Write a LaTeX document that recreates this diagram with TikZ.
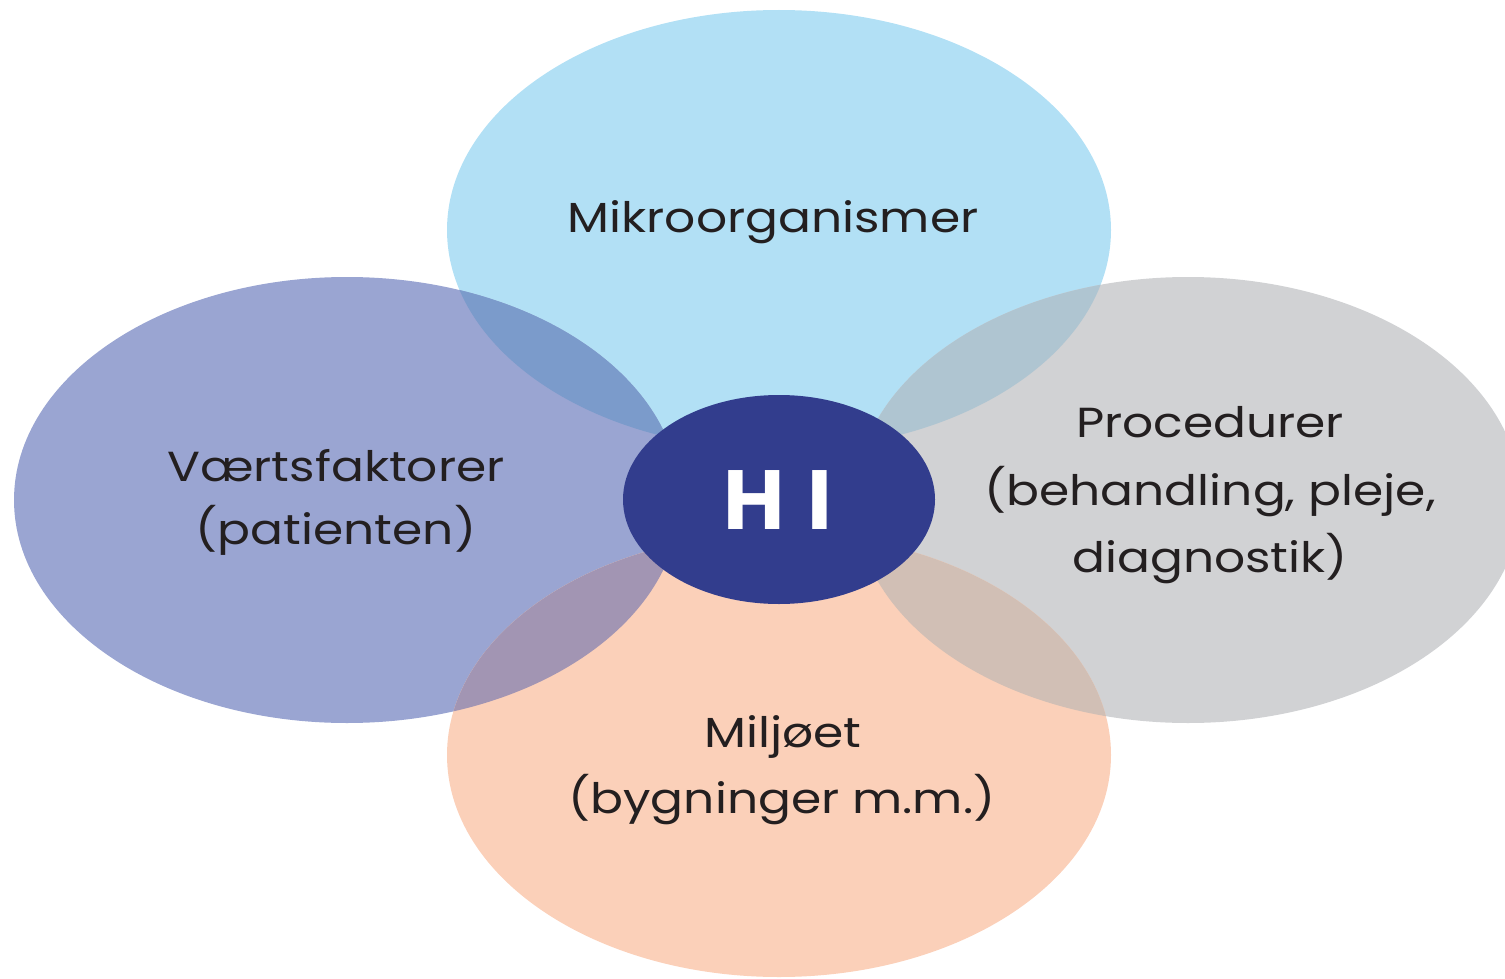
\documentclass[tikz,border=0pt]{standalone}
\usepackage{fontspec}
\usepackage{graphicx}
\setmainfont{Poppins}
\definecolor{ctop}{HTML}{B2E0F5}
\definecolor{cleft}{HTML}{9AA5D2}
\definecolor{cright}{HTML}{D1D2D4}
\definecolor{cbot}{HTML}{FBD0B9}
\definecolor{cdark}{HTML}{323D8D}
\definecolor{clt}{HTML}{7B9BCB}
\definecolor{ctr}{HTML}{AFC5D1}
\definecolor{clb}{HTML}{A295B3}
\definecolor{crb}{HTML}{D1BFB5}
\definecolor{txt}{HTML}{231F20}
\newcommand{\wide}[1]{\scalebox{1.16}[1]{#1}}
\begin{document}
\begin{tikzpicture}[x=1pt,y=-1pt,
  lbl/.style={text=txt, font=\fontsize{42}{60}\selectfont, anchor=base, inner sep=0pt},
  hilbl/.style={text=white, font=\fontsize{84}{90}\selectfont\bfseries, anchor=center, inner sep=0pt}]
\useasboundingbox (0,0) rectangle (1505,979);
% base ellipses
\fill[ctop]   (779,230) ellipse [x radius=332pt, y radius=220pt];
\fill[cleft]  (347,500) ellipse [x radius=333pt, y radius=223pt];
\fill[cright] (1188,500) ellipse [x radius=333pt, y radius=223pt];
\fill[cbot]   (779,755) ellipse [x radius=332pt, y radius=222pt];
% overlaps
\begin{scope}
  \clip (779,230) ellipse [x radius=332pt, y radius=220pt];
  \fill[clt] (347,500) ellipse [x radius=333pt, y radius=223pt];
  \fill[ctr] (1188,500) ellipse [x radius=333pt, y radius=223pt];
\end{scope}
\begin{scope}
  \clip (779,755) ellipse [x radius=332pt, y radius=222pt];
  \fill[clb] (347,500) ellipse [x radius=333pt, y radius=223pt];
  \fill[crb] (1188,500) ellipse [x radius=333pt, y radius=223pt];
\end{scope}
% centre
\fill[cdark] (779,499.5) ellipse [x radius=156pt, y radius=104.5pt];
% labels
\node[lbl] (mikro) at (773,232) {\wide{Mikroorganismer}};
\node[lbl] (vaert1) at (336,481) {\wide{Værtsfaktorer}};
\node[lbl] (vaert2) at (336,544) {\wide{(patienten)}};
\node[lbl] (proc1) at (1210,437) {\wide{Procedurer}};
\node[lbl] (proc2) at (1210,505) {\wide{(behandling, pleje,}};
\node[lbl] (proc3) at (1210,572) {\wide{diagnostik)}};
\node[lbl] (milj1) at (783,747) {\wide{Miljøet}};
\node[lbl] (milj2) at (782,813) {\wide{(bygninger m.m.)}};
\node[hilbl] (hi) at (778,500) {H\hspace{22pt}I};
\end{tikzpicture}
\end{document}
